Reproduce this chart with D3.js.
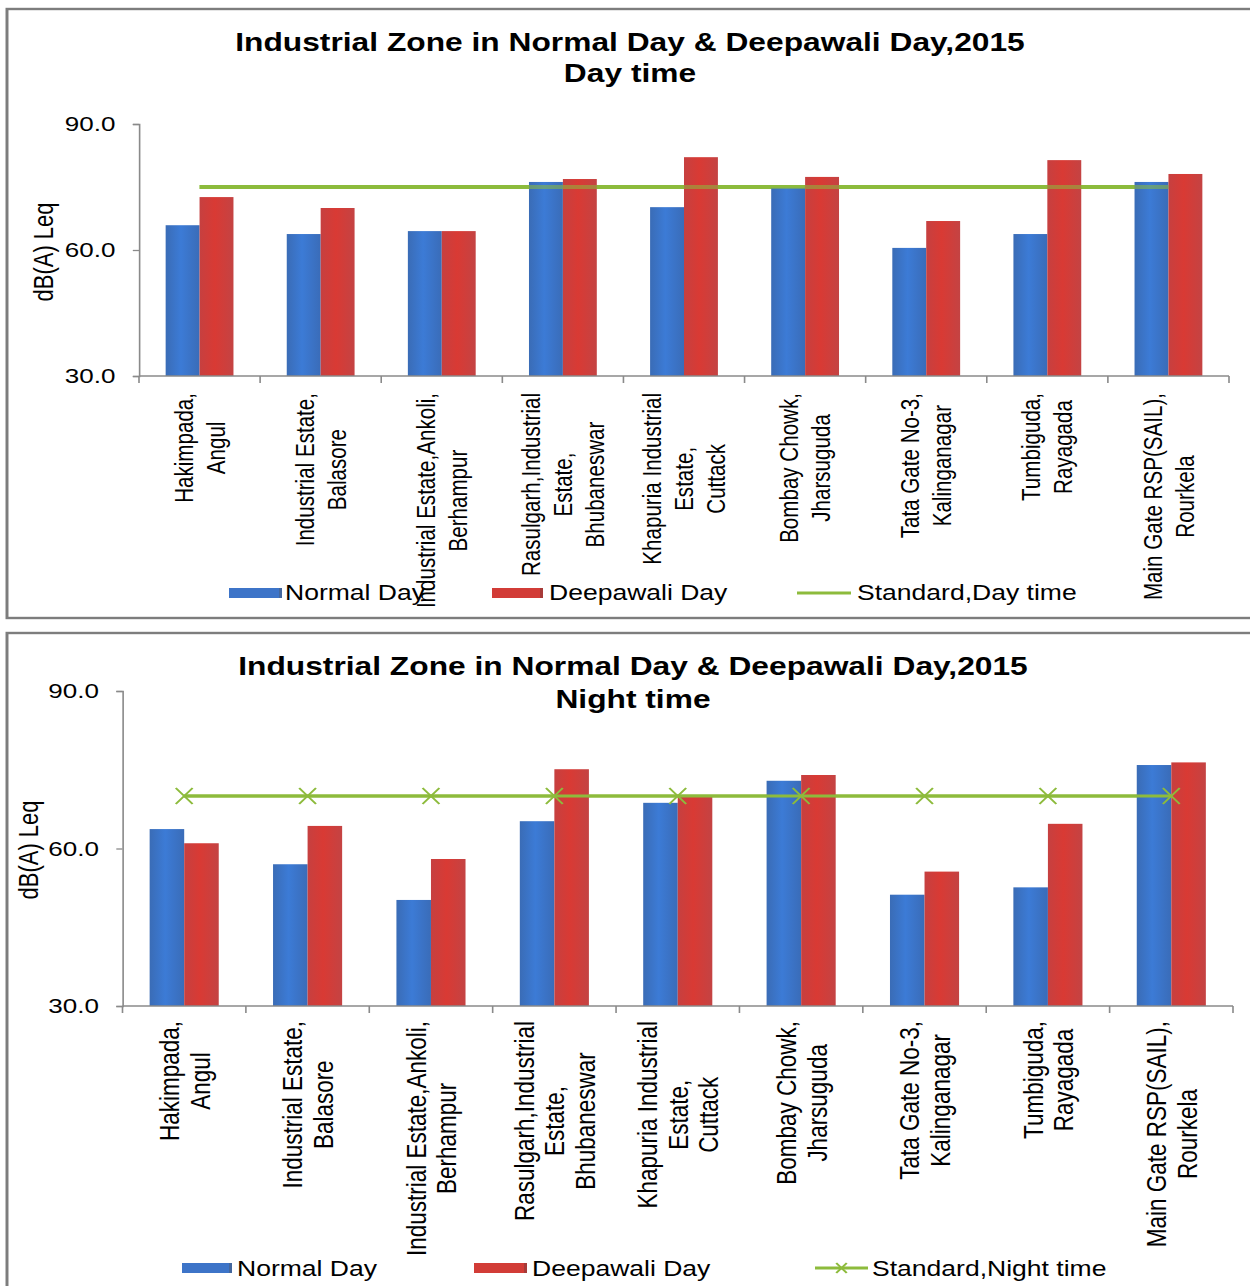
<!DOCTYPE html>
<html>
<head>
<meta charset="utf-8">
<script src="https://cdn.jsdelivr.net/npm/d3@7"></script>
<style>
  html, body { margin: 0; padding: 0; background: #fff; }
  svg { display: block; }
  text { font-family: "Liberation Sans", Arial, sans-serif; fill: #000; }
</style>
</head>
<body>
<svg id="chart"></svg>
<script>
// ---- data -------------------------------------------------------------
const locations = [
  ["Hakimpada,", "Angul"],
  ["Industrial Estate,", "Balasore"],
  ["Industrial Estate,Ankoli,", "Berhampur"],
  ["Rasulgarh,Industrial", "Estate,", "Bhubaneswar"],
  ["Khapuria Industrial", "Estate,", "Cuttack"],
  ["Bombay Chowk,", "Jharsuguda"],
  ["Tata Gate No-3,", "Kalinganagar"],
  ["Tumbiguda,", "Rayagada"],
  ["Main Gate RSP(SAIL),", "Rourkela"]
];
const seriesNames = ["Normal Day", "Deepawali Day"];

const dayNormal     = [65.9, 63.8, 64.5, 76.2, 70.2, 74.8, 60.5, 63.8, 76.2];
const dayDeepawali  = [72.6, 70.0, 64.5, 76.9, 82.1, 77.4, 66.9, 81.4, 78.1];
const dayStandard   = [75, 75, 75, 75, 75, 75, 75, 75, 75];

const nightNormal    = [63.7, 57.0, 50.2, 65.2, 68.7, 72.9, 51.2, 52.6, 75.9];
const nightDeepawali = [61.0, 64.3, 58.0, 75.1, 70.0, 74.0, 55.6, 64.7, 76.4];
const nightStandard  = [70, 70, 70, 70, 70, 70, 70, 70, 70];

const yDomain = [30, 90];
const yTicks  = [30, 60, 90];

// ---- layout -----------------------------------------------------------
const W = 1250, H = 1286;
const SX = 1.24;                       // horizontal stretch of the whole figure
const LW = W / SX;                     // logical width
const px = v => v / SX;                // screen x -> logical x

const svg = d3.select("#chart")
  .attr("width", W).attr("height", H)
  .attr("viewBox", `0 0 ${LW} ${H}`)
  .attr("preserveAspectRatio", "none");

const colors = { blue: "#3d74c8", red: "#d23c37", green: "#8dbb3c", axis: "#8a8a8a" };

// bar gradients
const defs = svg.append("defs");
function grad(id, stops) {
  const g = defs.append("linearGradient").attr("id", id)
    .attr("x1", "0").attr("x2", "1").attr("y1", "0").attr("y2", "0");
  stops.forEach(([o, c]) => g.append("stop").attr("offset", o).attr("stop-color", c));
}
grad("gBlue", [[0, "#3a6cb6"], [0.45, "#3c7bd6"], [1, "#3a6cb8"]]);
grad("gRed",  [[0, "#c64040"], [0.45, "#d93a34"], [1, "#c44343"]]);

const charts = [
  {
    panelY: 9, panelH: 609,
    title: ["Industrial Zone in Normal Day & Deepawali Day,2015", "Day time"],
    titleX: px(630), titleY: [51, 82],
    xRange: [px(139), px(1229)], yRange: [376, 124],
    yLabelPos: [px(43.5), 252],
    normal: dayNormal, deepawali: dayDeepawali, standard: dayStandard,
    standardName: "Standard,Day time", markers: false, lineWidth: 4,
    labelFont: 20.6, labelLH: 25.8, labelGap: 17,
    legendY: 593, legendBase: 600.5,
    legendX: [[229, 282, 285], [492, 543, 549], [797, 851, 857]]
  },
  {
    panelY: 633, panelH: 700,
    title: ["Industrial Zone in Normal Day & Deepawali Day,2015", "Night time"],
    titleX: px(633), titleY: [675, 708],
    xRange: [px(122.5), px(1233)], yRange: [1006, 691],
    yLabelPos: [px(28.5), 850],
    normal: nightNormal, deepawali: nightDeepawali, standard: nightStandard,
    standardName: "Standard,Night time", markers: true, lineWidth: 3.2,
    labelFont: 22.5, labelLH: 24.8, labelGap: 15,
    legendY: 1268, legendBase: 1276.5,
    legendX: [[182, 232, 237], [474, 527, 532], [815, 868, 872]]
  }
];

function xMark(sel, h) {
  // small "x" marker, h = half height
  const hx = h / SX * 1.05;
  sel.append("path")
    .attr("d", `M${-hx},${-h}L${hx},${h}M${-hx},${h}L${hx},${-h}`)
    .attr("stroke", colors.green).attr("stroke-width", 1.8).attr("fill", "none");
}

charts.forEach(cfg => {
  const g = svg.append("g");

  // panel frame
  g.append("rect")
    .attr("x", px(7)).attr("y", cfg.panelY)
    .attr("width", LW + 20).attr("height", cfg.panelH)
    .attr("fill", "#fff").attr("stroke", "#7d7d7d").attr("stroke-width", 2.4);

  // title
  cfg.title.forEach((t, i) => g.append("text")
    .attr("x", cfg.titleX).attr("y", cfg.titleY[i])
    .attr("text-anchor", "middle")
    .style("font-size", "25.6px").style("font-weight", "bold")
    .text(t));

  const idx = d3.range(locations.length);
  const x0 = d3.scaleBand().domain(idx).range(cfg.xRange).padding(0);
  const x1 = d3.scaleBand().domain(seriesNames)
    .range([0.22 * x0.bandwidth(), 0.78 * x0.bandwidth()]).padding(0);
  const y = d3.scaleLinear().domain(yDomain).range(cfg.yRange);

  // y axis
  const yAxis = g.append("g")
    .attr("transform", `translate(${cfg.xRange[0]},0)`)
    .call(d3.axisLeft(y).tickValues(yTicks).tickFormat(d3.format(".1f"))
      .tickSize(5).tickPadding(14));
  yAxis.select(".domain").attr("stroke", colors.axis).attr("stroke-width", 1.3);
  yAxis.selectAll(".tick line").attr("stroke", colors.axis).attr("stroke-width", 1.3);
  yAxis.selectAll(".tick text")
    .style("font-size", "21px").style("font-family", "Liberation Sans, Arial, sans-serif")
    .attr("fill", "#000");

  // y axis title
  g.append("text")
    .attr("transform", `translate(${cfg.yLabelPos[0]},${cfg.yLabelPos[1]}) rotate(-90)`)
    .attr("text-anchor", "middle").attr("dominant-baseline", "central")
    .style("font-size", "22px")
    .text("dB(A) Leq");

  // bars
  const series = [
    { name: seriesNames[0], values: cfg.normal, fill: "url(#gBlue)" },
    { name: seriesNames[1], values: cfg.deepawali, fill: "url(#gRed)" }
  ];
  const standardBehind = g.append("g");
  series.forEach(s => {
    g.append("g").selectAll("rect")
      .data(s.values)
      .join("rect")
      .attr("x", (d, i) => x0(i) + x1(s.name))
      .attr("width", x1.bandwidth())
      .attr("y", d => y(d))
      .attr("height", d => y(yDomain[0]) - y(d))
      .attr("fill", s.fill);
  });

  // x axis baseline with category ticks
  const base = y(yDomain[0]);
  g.append("line")
    .attr("x1", cfg.xRange[0]).attr("x2", cfg.xRange[1])
    .attr("y1", base).attr("y2", base)
    .attr("stroke", colors.axis).attr("stroke-width", 1.3);
  g.append("g").selectAll("line")
    .data(d3.range(locations.length + 1))
    .join("line")
    .attr("x1", i => cfg.xRange[0] + i * x0.bandwidth())
    .attr("x2", i => cfg.xRange[0] + i * x0.bandwidth())
    .attr("y1", base).attr("y2", base + 7)
    .attr("stroke", colors.axis).attr("stroke-width", 1.3);

  // standard line
  const line = d3.line()
    .x((d, i) => x0(i) + x0.bandwidth() / 2)
    .y(d => y(d));
  standardBehind.append("path")
    .attr("d", line(cfg.standard))
    .attr("fill", "none").attr("stroke", colors.green).attr("stroke-width", cfg.lineWidth);
  g.append("path")
    .attr("d", line(cfg.standard))
    .attr("fill", "none").attr("stroke", colors.green)
    .attr("stroke-width", cfg.lineWidth)
    .attr("stroke-opacity", cfg.markers ? 1 : 0.55);
  if (cfg.markers) {
    g.append("g").selectAll("g")
      .data(cfg.standard)
      .join("g")
      .attr("transform", (d, i) => `translate(${x0(i) + x0.bandwidth() / 2},${y(d)})`)
      .each(function () { xMark(d3.select(this), 8); });
  }

  // category labels (rotated, lines centred on each other)
  const capH = 0.716 * cfg.labelFont;
  locations.forEach((lines, i) => {
    const c = x0(i) + x0.bandwidth() / 2;
    const n = lines.length;
    const grp = g.append("g");
    const texts = lines.map((t, k) => {
      const bx = c + (k - (n - 1) / 2) * cfg.labelLH + capH / 2;
      return grp.append("text")
        .attr("text-anchor", "middle")
        .style("font-size", cfg.labelFont + "px")
        .attr("data-x", bx)
        .text(t);
    });
    const maxLen = d3.max(texts, t => t.node().getComputedTextLength());
    const cy = base + cfg.labelGap + maxLen / 2;
    texts.forEach(t => t.attr("transform",
      `translate(${t.attr("data-x")},${cy}) rotate(-90)`).attr("data-x", null));
  });

  // legend
  const legendItems = [
    { type: "bar", fill: colors.blue, edge: "#4a5f80", label: seriesNames[0] },
    { type: "bar", fill: colors.red, edge: "#8a3a3a", label: seriesNames[1] },
    { type: "line", label: cfg.standardName }
  ];
  legendItems.forEach((it, k) => {
    const [a, b, t] = cfg.legendX[k].map(px);
    if (it.type === "bar") {
      g.append("rect").attr("x", a).attr("y", cfg.legendY - 5)
        .attr("width", b - a).attr("height", 10).attr("fill", it.fill);
      g.append("rect").attr("x", b - px(3)).attr("y", cfg.legendY - 5)
        .attr("width", px(3)).attr("height", 10).attr("fill", it.edge).attr("opacity", 0.6);
    } else {
      g.append("line").attr("x1", a).attr("x2", b)
        .attr("y1", cfg.legendY).attr("y2", cfg.legendY)
        .attr("stroke", colors.green).attr("stroke-width", 3);
      if (cfg.markers) {
        g.append("g").attr("transform", `translate(${(a + b) / 2},${cfg.legendY})`)
          .each(function () { xMark(d3.select(this), 5); });
      }
    }
    g.append("text").attr("x", t).attr("y", cfg.legendBase)
      .style("font-size", "21.4px")
      .text(it.label);
  });
});
</script>
</body>
</html>
